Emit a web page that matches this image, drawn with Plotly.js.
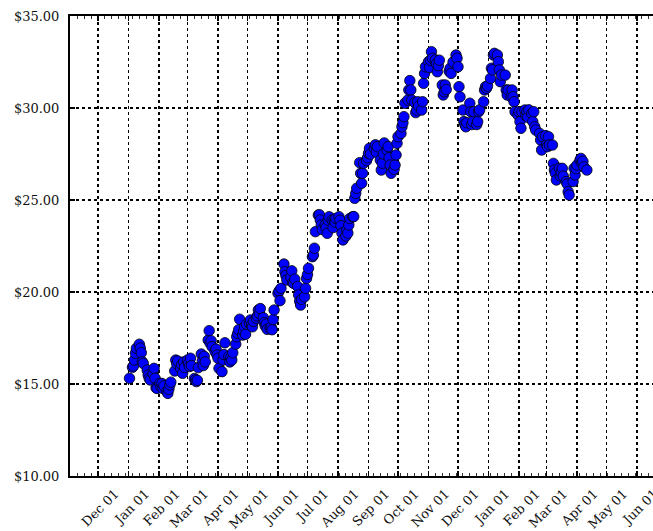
<!DOCTYPE html>
<html>
<head>
<meta charset="utf-8">
<script src="https://cdn.plot.ly/plotly-3.0.1.min.js"></script>
<style>html,body{margin:0;padding:0;background:#fff;}#chart{width:653px;height:531px;}</style>
</head>
<body>
<div id="chart"></div>
<script>
const dates = [
"2004-01-02","2004-01-05","2004-01-06","2004-01-07","2004-01-08","2004-01-09","2004-01-12","2004-01-13","2004-01-14","2004-01-15","2004-01-16",
"2004-01-20","2004-01-21","2004-01-22","2004-01-23","2004-01-26","2004-01-27","2004-01-28","2004-01-29","2004-01-30",
"2004-02-02","2004-02-03","2004-02-04","2004-02-05","2004-02-06","2004-02-09","2004-02-10","2004-02-11","2004-02-12","2004-02-13",
"2004-02-17","2004-02-18","2004-02-19","2004-02-20","2004-02-23","2004-02-24","2004-02-25","2004-02-26","2004-02-27",
"2004-03-01","2004-03-02","2004-03-03","2004-03-04","2004-03-05","2004-03-08","2004-03-09","2004-03-10","2004-03-11","2004-03-12",
"2004-03-15","2004-03-16","2004-03-17","2004-03-18","2004-03-19","2004-03-22","2004-03-23","2004-03-24","2004-03-25","2004-03-26",
"2004-03-29","2004-03-30","2004-03-31","2004-04-01","2004-04-02","2004-04-05","2004-04-06","2004-04-07","2004-04-08",
"2004-04-12","2004-04-13","2004-04-14","2004-04-15","2004-04-16","2004-04-19","2004-04-20","2004-04-21","2004-04-22","2004-04-23",
"2004-04-26","2004-04-27","2004-04-28","2004-04-29","2004-04-30","2004-05-03","2004-05-04","2004-05-05","2004-05-06","2004-05-07",
"2004-05-10","2004-05-11","2004-05-12","2004-05-13","2004-05-14","2004-05-17","2004-05-18","2004-05-19","2004-05-20","2004-05-21",
"2004-05-24","2004-05-25","2004-05-26","2004-05-27","2004-05-28","2004-06-01","2004-06-02","2004-06-03","2004-06-04",
"2004-06-07","2004-06-08","2004-06-09","2004-06-10","2004-06-14","2004-06-15","2004-06-16","2004-06-17","2004-06-18",
"2004-06-21","2004-06-22","2004-06-23","2004-06-24","2004-06-25","2004-06-28","2004-06-29","2004-06-30","2004-07-01","2004-07-02",
"2004-07-06","2004-07-07","2004-07-08","2004-07-09","2004-07-12","2004-07-13","2004-07-14","2004-07-15","2004-07-16",
"2004-07-19","2004-07-20","2004-07-21","2004-07-22","2004-07-23","2004-07-26","2004-07-27","2004-07-28","2004-07-29","2004-07-30",
"2004-08-02","2004-08-03","2004-08-04","2004-08-05","2004-08-06","2004-08-09","2004-08-10","2004-08-11","2004-08-12","2004-08-13",
"2004-08-16","2004-08-17","2004-08-18","2004-08-19","2004-08-20","2004-08-23","2004-08-24","2004-08-25","2004-08-26","2004-08-27",
"2004-08-30","2004-08-31","2004-09-01","2004-09-02","2004-09-03","2004-09-07","2004-09-08","2004-09-09","2004-09-10",
"2004-09-13","2004-09-14","2004-09-15","2004-09-16","2004-09-17","2004-09-20","2004-09-21","2004-09-22","2004-09-23","2004-09-24",
"2004-09-27","2004-09-28","2004-09-29","2004-09-30","2004-10-01","2004-10-04","2004-10-05","2004-10-06","2004-10-07","2004-10-08",
"2004-10-11","2004-10-12","2004-10-13","2004-10-14","2004-10-15","2004-10-18","2004-10-19","2004-10-20","2004-10-21","2004-10-22",
"2004-10-25","2004-10-26","2004-10-27","2004-10-28","2004-10-29","2004-11-01","2004-11-02","2004-11-03","2004-11-04","2004-11-05",
"2004-11-08","2004-11-09","2004-11-10","2004-11-11","2004-11-12","2004-11-15","2004-11-16","2004-11-17","2004-11-18","2004-11-19",
"2004-11-22","2004-11-23","2004-11-24","2004-11-26","2004-11-29","2004-11-30","2004-12-01","2004-12-02","2004-12-03",
"2004-12-06","2004-12-07","2004-12-08","2004-12-09","2004-12-10","2004-12-13","2004-12-14","2004-12-15","2004-12-16","2004-12-17",
"2004-12-20","2004-12-21","2004-12-22","2004-12-23","2004-12-27","2004-12-28","2004-12-29","2004-12-30","2004-12-31",
"2005-01-03","2005-01-04","2005-01-05","2005-01-06","2005-01-07","2005-01-10","2005-01-11","2005-01-12","2005-01-13","2005-01-14",
"2005-01-18","2005-01-19","2005-01-20","2005-01-21","2005-01-24","2005-01-25","2005-01-26","2005-01-27","2005-01-28",
"2005-01-31","2005-02-01","2005-02-02","2005-02-03","2005-02-04","2005-02-07","2005-02-08","2005-02-09","2005-02-10","2005-02-11",
"2005-02-14","2005-02-15","2005-02-16","2005-02-17","2005-02-18","2005-02-22","2005-02-23","2005-02-24","2005-02-25",
"2005-02-28","2005-03-01","2005-03-02","2005-03-03","2005-03-04","2005-03-07","2005-03-08","2005-03-09","2005-03-10","2005-03-11",
"2005-03-14","2005-03-15","2005-03-16","2005-03-17","2005-03-18","2005-03-21","2005-03-22","2005-03-23","2005-03-24",
"2005-03-28","2005-03-29","2005-03-30","2005-03-31","2005-04-01","2005-04-04","2005-04-05","2005-04-06","2005-04-07","2005-04-08",
"2005-04-11"
];
const prices = [
15.31,15.91,15.98,16.30,16.67,16.94,17.16,16.95,16.70,16.21,16.12,
15.76,15.49,15.31,15.22,15.55,15.85,15.31,14.80,14.76,
15.03,14.85,15.03,14.76,14.90,14.60,14.49,14.71,14.95,15.10,
15.71,16.30,16.10,16.25,15.85,16.05,15.58,16.20,15.90,
16.30,16.12,15.95,16.40,16.00,15.30,15.22,15.13,15.20,15.89,
16.63,16.25,16.00,16.50,16.20,17.39,17.90,17.21,17.35,17.03,
16.76,16.90,16.58,16.40,15.85,15.67,16.30,16.60,17.24,
16.50,16.20,16.45,16.30,16.70,17.17,17.57,17.75,17.95,18.52,
17.66,17.85,18.11,17.70,18.25,18.30,18.48,18.20,18.11,18.40,
18.57,18.70,19.02,18.84,19.10,18.60,18.33,18.15,18.25,17.97,
18.02,18.10,17.95,18.50,19.02,19.93,20.05,19.53,20.20,
21.52,21.10,20.90,20.65,20.80,21.15,20.50,20.47,20.70,
20.30,19.84,19.50,19.29,19.60,19.74,20.20,20.74,20.95,21.29,
21.92,22.01,22.38,23.28,24.18,24.20,23.91,23.64,23.40,
23.64,23.50,23.19,23.90,24.09,23.91,23.50,23.91,23.80,24.00,
24.09,23.90,23.60,23.20,22.83,23.04,23.37,23.20,23.64,24.00,
24.09,24.10,25.09,25.36,25.64,27.03,26.45,25.91,26.45,27.00,
27.14,27.30,27.54,27.81,27.50,27.81,28.00,27.60,27.90,
27.17,26.63,27.00,27.50,28.10,27.70,27.90,27.30,26.90,26.45,
26.67,26.90,27.45,28.08,28.44,28.62,28.98,29.20,29.53,30.26,
30.43,30.98,31.49,30.98,30.43,30.30,29.75,29.89,30.34,30.10,
29.89,30.34,31.34,31.88,32.24,32.52,32.20,32.60,33.06,32.70,
32.61,32.40,31.97,32.30,32.60,31.25,30.71,30.88,31.25,31.00,
32.00,32.16,31.88,32.50,32.88,32.70,32.24,31.16,30.61,
29.89,29.26,29.10,28.98,29.20,30.26,29.80,29.10,29.26,29.80,
29.10,29.26,29.80,29.90,30.34,30.98,31.16,31.07,31.20,
31.61,32.16,32.07,32.88,32.97,32.88,32.52,32.07,31.43,31.79,
31.79,30.98,30.71,30.98,30.61,30.98,30.61,30.34,29.80,
29.62,29.80,29.26,28.90,29.80,29.89,29.60,29.80,29.50,29.90,
29.70,29.26,29.80,28.98,28.80,28.62,28.26,27.72,28.44,
28.50,28.00,27.90,28.44,27.99,27.99,26.99,26.63,26.45,26.09,
26.72,26.30,26.50,26.72,26.30,26.00,25.87,25.45,25.27,
26.00,26.72,26.36,26.70,26.90,27.17,27.26,26.99,27.10,26.80,
26.63
];
const yTickVals = [10, 15, 20, 25, 30, 35];
const yTickText = ["$10.00", "$15.00", "$20.00", "$25.00", "$30.00", "$35.00"];
const xRange = ["2003-11-02 12:00", "2005-06-17 06:00"];
const yRange = [10, 35];

const fontFam = "DejaVu Serif, Liberation Serif, serif";
const WEEK = 7 * 86400000;

const trace = {
  type: "scatter", mode: "markers", x: dates, y: prices,
  marker: {size: 10.5, color: "#0000ff", line: {color: "#000000", width: 0.8}},
  hoverinfo: "x+y"
};
const topTrace = {type: "scatter", mode: "markers", x: [dates[0]], y: [prices[0]], xaxis: "x2", yaxis: "y",
  marker: {size: 10, color: "rgba(0,0,0,0)"}, hoverinfo: "skip", showlegend: false};

const commonX = {
  type: "date", range: xRange, tick0: "2003-12-01", dtick: "M1",
  ticks: "inside", ticklen: 5, tickwidth: 1.2, tickcolor: "#000",
  showline: true, linecolor: "#000", linewidth: 2,
  minor: {dtick: WEEK, tick0: "2003-11-03", ticks: "inside", ticklen: 3, tickcolor: "#333", tickwidth: 1, showgrid: false},
  zeroline: false
};

const layout = {
  width: 653, height: 531,
  margin: {l: 70, r: 0, t: 16, b: 55},
  paper_bgcolor: "#fff", plot_bgcolor: "#fff",
  showlegend: false,
  font: {family: fontFam, size: 13, color: "#111"},
  xaxis: Object.assign({}, commonX, {
    side: "bottom", anchor: "y",
    tickformat: "%b %d", tickangle: -45,
    showgrid: true, gridcolor: "#000", gridwidth: 1.6, griddash: "dot",
    ticklabelstandoff: 3, ticklabelshift: 17, ticklabeloverflow: "allow",
    tickfont: {family: fontFam, size: 13, color: "#111"}
  }),
  xaxis2: Object.assign({}, commonX, {
    side: "top", overlaying: "x", anchor: "y", matches: "x",
    showticklabels: false, showgrid: false
  }),
  yaxis: {
    range: yRange, tickmode: "array", tickvals: yTickVals, ticktext: yTickText,
    ticks: "inside", ticklen: 5, tickwidth: 1.2, tickcolor: "#000",
    showline: true, linecolor: "#000", linewidth: 2,
    showgrid: true, gridcolor: "#000", gridwidth: 1.6, griddash: "dot",
    zeroline: false, ticklabelstandoff: 6,
    tickfont: {family: fontFam, size: 13, color: "#111"}
  }
};

Plotly.newPlot("chart", [trace, topTrace], layout, {displayModeBar: false, staticPlot: true});
</script>
</body>
</html>
